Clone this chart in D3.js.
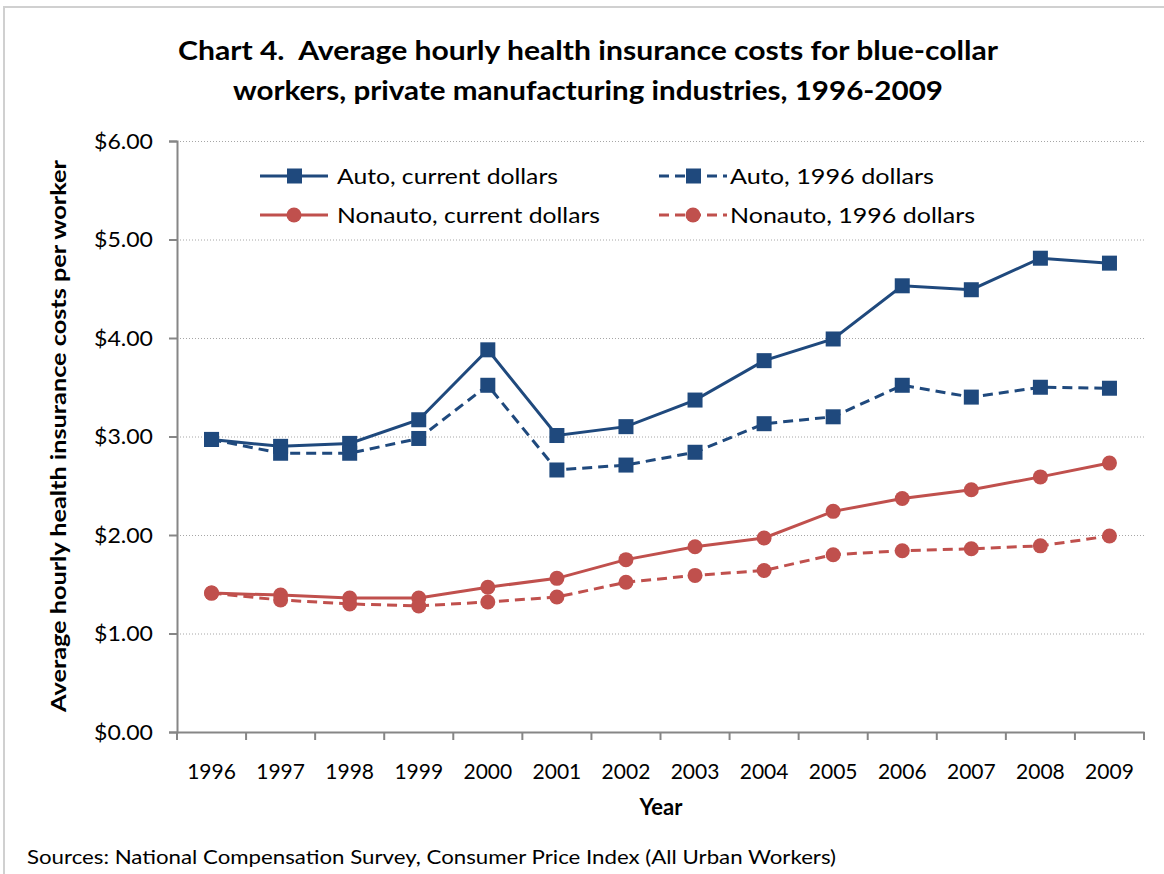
<!DOCTYPE html>
<html>
<head>
<meta charset="utf-8">
<script src="https://cdn.jsdelivr.net/npm/d3@7/dist/d3.min.js"></script>
<style>
  html, body { margin: 0; padding: 0; background: #fff; }
  svg { display: block; }
  text { font-family: Lato, "Open Sans", sans-serif; fill: #000; white-space: pre; }
</style>
</head>
<body>
<svg id="chart" width="1164" height="874"></svg>
<script>
const years = ["1996","1997","1998","1999","2000","2001","2002","2003","2004","2005","2006","2007","2008","2009"];
const autoCurrent   = [2.97, 2.90, 2.93, 3.17, 3.88, 3.01, 3.10, 3.37, 3.77, 3.99, 4.53, 4.49, 4.81, 4.76];
const auto1996      = [2.97, 2.83, 2.83, 2.98, 3.52, 2.66, 2.71, 2.84, 3.13, 3.20, 3.52, 3.40, 3.50, 3.49];
const nonautoCurrent= [1.41, 1.39, 1.36, 1.36, 1.47, 1.56, 1.75, 1.88, 1.97, 2.24, 2.37, 2.46, 2.59, 2.73];
const nonauto1996   = [1.41, 1.34, 1.30, 1.28, 1.32, 1.37, 1.52, 1.59, 1.64, 1.80, 1.84, 1.86, 1.89, 1.99];
const yTicks = [0, 1, 2, 3, 4, 5, 6];
const titleLines = ["Chart 4.  Average hourly health insurance costs for blue-collar",
                    "workers, private manufacturing industries, 1996-2009"];
const seriesNames = ["Auto, current dollars", "Auto, 1996 dollars", "Nonauto, current dollars", "Nonauto, 1996 dollars"];

const BLUE = "#1F497D", RED = "#C0504D";
const series = [
  {name: seriesNames[0], values: autoCurrent, color: BLUE, dash: null, marker: "square"},
  {name: seriesNames[1], values: auto1996, color: BLUE, dash: "10,6", marker: "square"},
  {name: seriesNames[2], values: nonautoCurrent, color: RED, dash: null, marker: "circle"},
  {name: seriesNames[3], values: nonauto1996, color: RED, dash: "10,6", marker: "circle"}
];

const svg = d3.select("#chart");

// outer frame (top & left)
svg.append("line").attr("x1", 3).attr("x2", 1164).attr("y1", 7).attr("y2", 7)
  .attr("stroke", "#d0d0d0").attr("stroke-width", 2);
svg.append("line").attr("x1", 4).attr("x2", 4).attr("y1", 6).attr("y2", 874)
  .attr("stroke", "#d0d0d0").attr("stroke-width", 2);

const pLeft = 177, pRight = 1144, pTop = 141, pBottom = 732;
const x = d3.scaleBand().domain(years).range([pLeft, pRight]);
const y = d3.scaleLinear().domain([0, 6]).range([pBottom, pTop]);

// title
const titleWidths = [820, 710];
svg.append("g").selectAll("text").data(titleLines).join("text")
  .attr("x", 588).attr("y", (d, i) => 60 + i * 40)
  .attr("text-anchor", "middle")
  .attr("font-size", 26).attr("font-weight", "bold")
  .attr("textLength", (d, i) => titleWidths[i]).attr("lengthAdjust", "spacingAndGlyphs")
  .text(d => d);

// gridlines
svg.append("g").selectAll("line").data(yTicks.filter(d => d > 0)).join("line")
  .attr("x1", pLeft).attr("x2", pRight)
  .attr("y1", d => y(d) + 0.5).attr("y2", d => y(d) + 0.5)
  .attr("stroke", "#a6a6a6").attr("stroke-width", 1).attr("stroke-dasharray", "1,2");

// y axis
const yAxis = d3.axisLeft(y).tickValues(yTicks).tickFormat(d => "$" + d3.format(".2f")(d)).tickSize(8).tickPadding(16);
const gy = svg.append("g").attr("transform", `translate(${pLeft},0)`).call(yAxis);
gy.select(".domain").attr("stroke", "#868686").attr("stroke-width", 2);
gy.selectAll(".tick line").attr("stroke", "#868686").attr("stroke-width", 2);
gy.selectAll(".tick text").attr("font-size", 22).attr("font-family", "Lato, sans-serif").attr("fill", "#000")
  .attr("textLength", 59).attr("lengthAdjust", "spacingAndGlyphs");

// x axis
const xAxis = d3.axisBottom(x).tickSize(0).tickPadding(32);
const gx = svg.append("g").attr("transform", `translate(0,${pBottom})`).call(xAxis);
gx.select(".domain").attr("stroke", "#868686").attr("stroke-width", 2);
gx.selectAll(".tick text").attr("font-size", 21).attr("font-family", "Lato, sans-serif").attr("fill", "#000");
// boundary ticks
const bounds = years.map(d => x(d)).concat([pRight]);
svg.append("g").selectAll("line").data(bounds).join("line")
  .attr("x1", d => d).attr("x2", d => d).attr("y1", pBottom).attr("y2", pBottom + 8)
  .attr("stroke", "#868686").attr("stroke-width", 2);

// axis titles
svg.append("text").attr("x", 661).attr("y", 815).attr("text-anchor", "middle")
  .attr("font-size", 22).attr("font-weight", "bold").text("Year");
svg.append("text").attr("transform", "translate(66,436) rotate(-90)")
  .attr("text-anchor", "middle").attr("font-size", 21).attr("font-weight", "bold")
  .attr("textLength", 552).attr("lengthAdjust", "spacingAndGlyphs")
  .text("Average hourly health insurance costs per worker");

// source
svg.append("text").attr("x", 27).attr("y", 864).attr("font-size", 20)
  .attr("textLength", 809).attr("lengthAdjust", "spacingAndGlyphs")
  .text("Sources: National Compensation Survey, Consumer Price Index (All Urban Workers)");

// lines
const cx = (d, i) => x(years[i]) + x.bandwidth() / 2;
const line = d3.line().x(cx).y(d => y(d));
const gs = svg.append("g");
series.forEach(s => {
  gs.append("path").datum(s.values).attr("d", line)
    .attr("fill", "none").attr("stroke", s.color).attr("stroke-width", 3)
    .attr("stroke-dasharray", s.dash);
  const m = gs.append("g").selectAll(".m").data(s.values).join(s.marker === "square" ? "rect" : "circle");
  if (s.marker === "square") {
    m.attr("x", (d, i) => cx(d, i) - 7.5).attr("y", d => y(d) - 7.5).attr("width", 15).attr("height", 15).attr("fill", s.color);
  } else {
    m.attr("cx", cx).attr("cy", d => y(d)).attr("r", 7.5).attr("fill", s.color);
  }
});

// legend
const legendPos = [
  {x: 260, y: 176, w: 221}, {x: 659, y: 176, w: 204}, {x: 260, y: 215, w: 263}, {x: 659, y: 215, w: 245}
];
series.forEach((s, i) => {
  const p = legendPos[i];
  const g = svg.append("g").attr("transform", `translate(${p.x},${p.y})`);
  g.append("line").attr("x1", 0).attr("x2", 68).attr("y1", 0).attr("y2", 0)
    .attr("stroke", s.color).attr("stroke-width", 3).attr("stroke-dasharray", s.dash);
  if (s.marker === "square") g.append("rect").attr("x", 27).attr("y", -7.5).attr("width", 15).attr("height", 15).attr("fill", s.color);
  else g.append("circle").attr("cx", 34).attr("cy", 0).attr("r", 7.5).attr("fill", s.color);
  g.append("text").attr("x", s.dash ? 71 : 77).attr("y", 8).attr("font-size", 22)
    .attr("textLength", p.w).attr("lengthAdjust", "spacingAndGlyphs").text(s.name);
});
</script>
</body>
</html>
